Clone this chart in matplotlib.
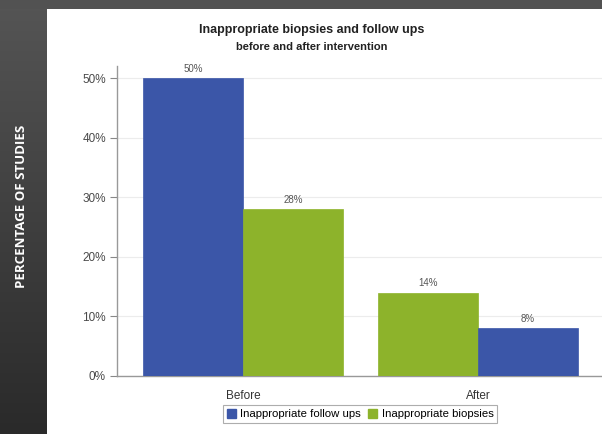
import matplotlib
matplotlib.use("Agg")
import matplotlib.pyplot as plt
import numpy as np
from matplotlib import font_manager
from matplotlib.patches import Patch
from matplotlib.colors import LinearSegmentedColormap

categories = ["Before", "After"]
follow_ups = [50, 8]
biopsies = [28, 14]
# order of bars within each group (left, right)
group_order = [["follow_ups", "biopsies"], ["biopsies", "follow_ups"]]
yticks = [0, 10, 20, 30, 40, 50]
ytick_labels = ["0%", "10%", "20%", "30%", "40%", "50%"]

series = {"follow_ups": follow_ups, "biopsies": biopsies}
names = {"follow_ups": "Inappropriate follow ups", "biopsies": "Inappropriate biopsies"}
colors = {"follow_ups": "#3b56a8", "biopsies": "#8db32b"}

avail = {f.name for f in font_manager.fontManager.ttflist}
narrow = "Liberation Sans Narrow" if "Liberation Sans Narrow" in avail else "Liberation Sans"
plt.rcParams["font.family"] = [narrow, "DejaVu Sans"]

fig = plt.figure(figsize=(6.02, 4.34), dpi=100)
fig.patch.set_facecolor("white")

# background: dark top band and left strip gradient
bg = fig.add_axes([0, 0, 1, 1], zorder=-10)
bg.axis("off")
bg.add_patch(plt.Rectangle((0, 0), 602, 9, color="#525252", lw=0))
grad = np.linspace(0, 1, 256).reshape(-1, 1)
cm = LinearSegmentedColormap.from_list("g", ["#555555", "#2a2a2a"])
bg.imshow(grad, cmap=cm, extent=[0, 47, 434, 0], aspect="auto")
bg.set_xlim(0, 602)
bg.set_ylim(434, 0)
bg.text(22, 206, "PERCENTAGE OF STUDIES", rotation=90, color="white",
        fontsize=9.5, fontweight="bold", ha="center", va="center",
        family=["Open Sans", "DejaVu Sans"])

ax = fig.add_axes([117 / 602, 1 - 376 / 434, 1 - 117 / 602, (376 - 66) / 434])
width = 0.425
x = np.arange(len(categories))
for i, cat in enumerate(categories):
    for j, key in enumerate(group_order[i]):
        xpos = x[i] + (j - 0.5) * width
        val = series[key][i]
        ax.bar(xpos, val, width=width, color=colors[key], edgecolor=colors[key],
               linewidth=0.5, zorder=3)
        ax.text(xpos, val + 0.8, f"{val}%", ha="center", va="bottom",
                fontsize=7, color="#555555", zorder=4)

ax.set_xlim(-0.536, 1.528)
ax.set_ylim(0, 52.1)
ax.set_yticks(yticks)
ax.set_yticklabels(ytick_labels, fontsize=8.5, color="#4a4a4a")
ax.set_xticks(x)
ax.set_xticklabels(categories, fontsize=8.5, color="#333333")
ax.tick_params(axis="x", length=0, pad=10)
ax.tick_params(axis="y", length=5, width=0.8, color="#888888", pad=3)
ax.yaxis.grid(True, color="#ececec", linewidth=0.8, zorder=0)
for s in ["top", "right"]:
    ax.spines[s].set_visible(False)
for s in ["left", "bottom"]:
    ax.spines[s].set_color("#999999")
    ax.spines[s].set_linewidth(1.0)

fig.text(312 / 602, 1 - 30 / 434, "Inappropriate biopsies and follow ups",
         ha="center", va="center", fontsize=9, fontweight="bold", color="#222222")
fig.text(312 / 602, 1 - 47 / 434, "before and after intervention",
         ha="center", va="center", fontsize=8, fontweight="bold", color="#222222")

handles = [Patch(facecolor=colors[k], edgecolor=colors[k], label=names[k])
           for k in ["follow_ups", "biopsies"]]
leg = fig.legend(handles=handles, loc="center", bbox_to_anchor=(360 / 602, 1 - 414 / 434),
                 ncol=2, fontsize=8.2, frameon=True, fancybox=False,
                 handlelength=0.8, handleheight=0.8, handletextpad=0.4,
                 columnspacing=0.6, borderpad=0.3, borderaxespad=0)
leg.get_frame().set_edgecolor("#999999")
leg.get_frame().set_linewidth(0.8)

fig.savefig("out.png", dpi=100)
